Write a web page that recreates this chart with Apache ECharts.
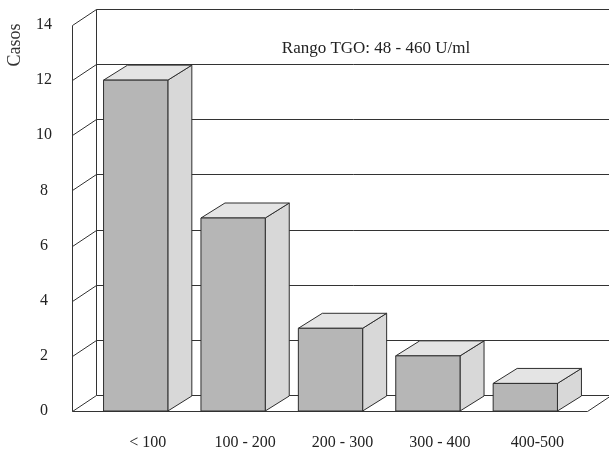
<!DOCTYPE html>
<html>
<head>
<meta charset="utf-8">
<script src="https://cdn.jsdelivr.net/npm/echarts@6/dist/echarts.min.js"></script>
<style>
  html, body { margin: 0; padding: 0; background: #ffffff; }
  #chart { width: 609px; height: 452px; }
</style>
</head>
<body>
<div id="chart"></div>
<script>
// Cases per TGO range (U/ml)
const categories = ['< 100', '100 - 200', '200 - 300', '300 - 400', '400-500'];
const casos = [12, 7, 3, 2, 1];
const yTicks = [0, 2, 4, 6, 8, 10, 12, 14];
const rangeNote = 'Rango TGO: 48 - 460 U/ml';
const axisTitle = 'Casos';

// Oblique projection used for the pseudo-3D frame and columns
const WALL_DX = 24, WALL_DY = -16;
const BAR_DX = 24, BAR_DY = -15;
const FONT = '"Liberation Serif", "Times New Roman", serif';
const LINE = '#333333';

const chart = echarts.init(document.getElementById('chart'));

function px(v) { return Math.round(v) + 0.5; }

// Side wall, back wall, floor and their grid lines
function renderFrame(params, api) {
  const cs = params.coordSys;
  const xf0 = cs.x - 15;                 // front edge of the side wall
  const xf1 = cs.x + cs.width + 13;      // front right corner of the floor
  const xb0 = xf0 + WALL_DX;
  const xb1 = xf1 + WALL_DX;
  const children = [];
  const line = (x1, y1, x2, y2) => children.push({
    type: 'line',
    shape: { x1: px(x1), y1: px(y1), x2: px(x2), y2: px(y2) },
    style: { stroke: LINE, lineWidth: 1 }
  });
  const yAt = v => api.coord([0, v])[1];
  const y0 = yAt(0);
  const yTop = yAt(yTicks[yTicks.length - 1]);

  // back wall horizontal lines (value 0 is the back edge of the floor)
  yTicks.forEach(v => line(xb0, yAt(v) + WALL_DY, xb1, yAt(v) + WALL_DY));
  // side wall slanted lines
  yTicks.forEach(v => { if (v > 0) line(xf0, yAt(v), xb0, yAt(v) + WALL_DY); });
  // side wall vertical edges
  line(xf0, y0, xf0, yTop);
  line(xb0, y0 + WALL_DY, xb0, yTop + WALL_DY);
  // floor
  line(xf0, y0, xb0, y0 + WALL_DY);
  line(xf0, y0, xf1, y0);
  line(xf1, y0, xb1, y0 + WALL_DY);

  return { type: 'group', children: children };
}

// One prism per category: side, top and front faces
function renderBar(params, api) {
  const i = api.value(0);
  const v = api.value(1);
  const top = api.coord([i, v]);
  const base = api.coord([i, 0]);
  const w = api.size([1, 0])[0] * 0.66;
  const x0 = top[0] - w / 2, x1 = top[0] + w / 2;
  const yt = top[1], yb = base[1];
  const edge = { stroke: '#2e2e2e', lineWidth: 1, lineJoin: 'round' };
  return {
    type: 'group',
    children: [
      {
        type: 'polygon',
        shape: { points: [[x1, yt], [x1 + BAR_DX, yt + BAR_DY], [x1 + BAR_DX, yb + BAR_DY], [x1, yb]] },
        style: Object.assign({ fill: '#d8d8d8' }, edge)
      },
      {
        type: 'polygon',
        shape: { points: [[x0, yt], [x0 + BAR_DX, yt + BAR_DY], [x1 + BAR_DX, yt + BAR_DY], [x1, yt]] },
        style: Object.assign({ fill: '#e4e4e4' }, edge)
      },
      {
        type: 'rect',
        shape: { x: x0, y: yt, width: w, height: yb - yt },
        style: Object.assign({ fill: '#b6b6b6' }, edge)
      }
    ]
  };
}

chart.setOption({
  backgroundColor: '#ffffff',
  animation: false,
  grid: { left: 87, right: 35, top: 25, bottom: 41, containLabel: false },
  xAxis: {
    type: 'category',
    data: categories,
    axisLine: { show: false },
    axisTick: { show: false },
    splitLine: { show: false },
    axisLabel: {
      margin: 24,
      color: '#222',
      fontFamily: FONT,
      fontSize: 16,
      padding: [0, 0, 0, 24]
    }
  },
  yAxis: {
    type: 'value',
    min: 0,
    max: 14,
    interval: 2,
    offset: 15,
    axisLine: { show: false },
    axisTick: { show: false },
    splitLine: { show: false },
    axisLabel: {
      margin: 28,
      align: 'center',
      color: '#222',
      fontFamily: FONT,
      fontSize: 16
    }
  },
  graphic: [
    {
      type: 'text',
      x: 15, y: 45,
      rotation: Math.PI / 2,
      style: {
        text: axisTitle,
        fontFamily: FONT, fontSize: 18, fill: '#333',
        textAlign: 'center', textVerticalAlign: 'middle'
      }
    },
    {
      type: 'text',
      x: 376, y: 49,
      style: {
        text: rangeNote,
        fontFamily: FONT, fontSize: 17, fill: '#222',
        textAlign: 'center', textVerticalAlign: 'middle'
      }
    }
  ],
  series: [
    {
      type: 'custom',
      silent: true,
      z: 1,
      data: [[0, 0]],
      renderItem: renderFrame
    },
    {
      type: 'custom',
      z: 2,
      data: casos.map((v, i) => [i, v]),
      encode: { x: 0, y: 1 },
      renderItem: renderBar
    }
  ]
});
</script>
</body>
</html>
